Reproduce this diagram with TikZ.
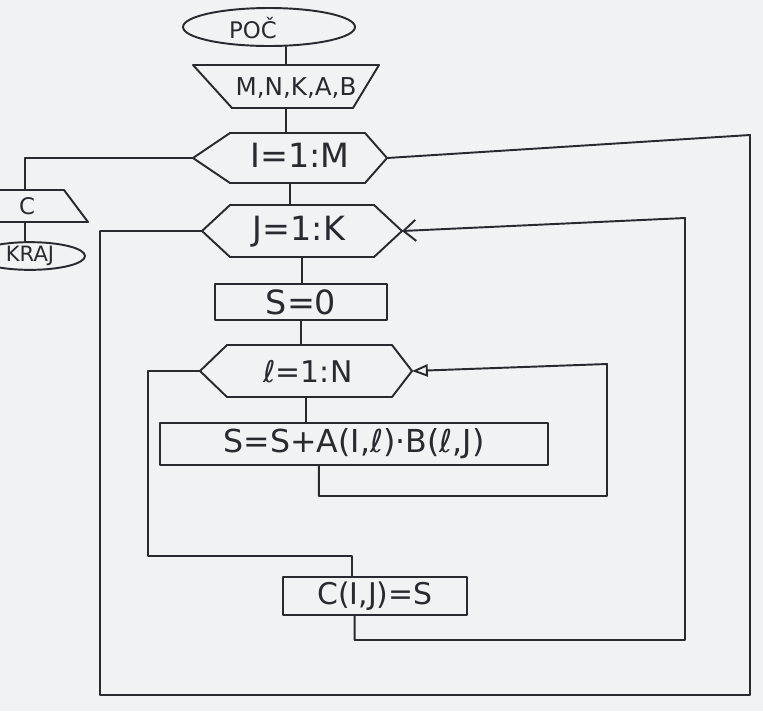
\documentclass[tikz,border=0pt]{standalone}
\usepackage{fontspec}
\setmainfont{DejaVu Sans}
\usetikzlibrary{shapes.geometric,arrows.meta,calc}
\definecolor{ink}{RGB}{40,42,48}
\definecolor{paper}{RGB}{241,242,244}

\tikzset{
  flow/.style={draw=ink, line width=1.1pt, line join=round, line cap=round},
  lbl/.style={text=ink, inner sep=0pt, font=\fontsize{#1}{#1}\selectfont},
  box/.style={flow, rectangle, inner sep=0pt},
  term/.style={flow, ellipse, inner sep=0pt},
  % loop symbol: elongated hexagon pointed at left and right
  % #1 half width, #2 half height, #3 left run, #4 right run
  pics/loophex/.style n args={4}{code={
      \draw[flow] (-#1,0) coordinate (-W) -- (-#1+#3,-#2) -- (#1-#4,-#2)
        -- (#1,0) coordinate (-E) -- (#1-#4,#2) -- (-#1+#3,#2) -- cycle;
      \coordinate (-N) at (0,-#2);
      \coordinate (-S) at (0,#2);
  }},
  % manual input: wide top edge, narrow bottom edge
  % #1 top half width, #2 bottom left offset, #3 bottom right offset, #4 half height
  pics/inbox/.style n args={4}{code={
      \draw[flow] (-#1,-#4) -- (#1,-#4) -- (#3,#4) -- (-#2,#4) -- cycle;
      \coordinate (-N) at (0,-#4);
      \coordinate (-S) at (0,#4);
  }},
}

\begin{document}
\begin{tikzpicture}[x=0.02cm, y=-0.02cm]
\useasboundingbox (0,0) rectangle (763,711);
\fill[paper] (0,0) rectangle (763,711);
\clip (0,0) rectangle (763,711);

% start and input
\node[term, minimum width=3.44cm, minimum height=0.76cm] (poc) at (269,27) {};
\node[lbl=13] (tpoc) at (253,28) {POČ};
\pic (inp) at (286,86.5) {inbox={93}{54}{67}{21.5}};
\node[lbl=14] (tinp) at (296,88) {M,N,K,A,B};

% outer loop over I
\pic (I) at (290,158) {loophex={97}{25}{37}{22}};
\node[lbl=19] (tI) at (300,155) {I=1:M};

% middle loop over J
\pic (J) at (302,231) {loophex={100}{26}{28}{28}};
\node[lbl=19] (tJ) at (299,232) {J=1:K};

\node[box, minimum width=3.44cm, minimum height=0.72cm, lbl=19] (s0) at (301,302) {S=0};

% inner loop over l
\pic (L) at (306,371) {loophex={106}{26}{27}{20}};
\node[lbl=17] (tL) at (308,372) {ℓ=1:N};

\node[box, minimum width=7.76cm, minimum height=0.84cm, lbl=18] (sum) at (354,444) {S=S+A(I,ℓ)·B(ℓ,J)};
\node[box, minimum width=3.68cm, minimum height=0.76cm, lbl=17] (cij) at (375,596) {C(I,J)=S};

% output of C and end
\draw[flow] (-20,190) -- (64,190) -- (88,222) -- (-20,222);
\coordinate (cTop) at (25,190);
\coordinate (cBot) at (25,222);
\node[lbl=13] (tC) at (27,206) {C};
\node[term, minimum width=2.2cm, minimum height=0.54cm, lbl=12] (kraj) at (30,256) {KRAJ};

% straight connectors
\draw[flow] (inp-N) -- (inp-N |- poc.south);
\draw[flow] (inp-S) -- (inp-S |- I-N);
\draw[flow] (I-S) -- (I-S |- J-N);
\draw[flow] (J-S) -- (J-S |- s0.north);
\draw[flow] (s0.south) -- (s0.south |- L-N);
\draw[flow] (L-S) -- (L-S |- sum.north);
\draw[flow] (cBot) -- (cBot |- kraj.north);

% loop returns and exits
\coordinate (sumOut) at ($(sum.south west)!0.41!(sum.south east)$);
\coordinate (cijIn) at ($(cij.north west)!0.375!(cij.north east)$);
\coordinate (cijOut) at ($(cij.south west)!0.39!(cij.south east)$);
\coordinate (lRet) at (607,496);
\coordinate (lTop) at (607,364);
\coordinate (lExit) at (148,556);
\coordinate (jRet) at (685,640);
\coordinate (jTop) at (685,218);
\coordinate (oBL) at (100,695);
\coordinate (oTR) at (750,135);

\draw[flow, -{Triangle[open, length=9pt, width=7pt]}] (sumOut) |- (lRet) -- (lTop) -- (L-E);
\draw[flow] (L-W) -| (lExit) -| (cijIn);
\draw[flow, -{Straight Barb[length=7pt, width=12pt]}] (cijOut) |- (jRet) -- (jTop) -- (J-E);
\draw[flow] (J-W) -| (oBL) -| (oTR) -- (I-E);
\draw[flow] (I-W) -| (cTop);
\end{tikzpicture}
\end{document}
